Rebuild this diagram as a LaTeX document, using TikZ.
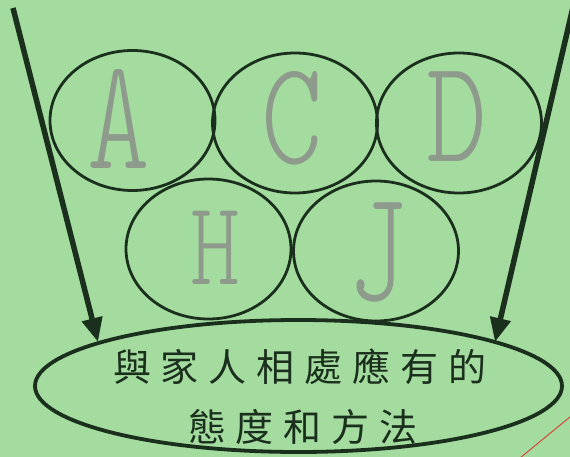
\documentclass[tikz,border=0pt]{standalone}
\usepackage{fontspec}
\newfontfamily\cjk{Noto Sans CJK TC}
\newfontfamily\hand{lmmonolt10-regular.otf}
\usetikzlibrary{shapes.geometric,arrows.meta}
\definecolor{bg}{HTML}{A4DCA0}
\definecolor{ink}{HTML}{1B2F1D}
\definecolor{pencil}{HTML}{8E9B8C}
\definecolor{redline}{HTML}{D5463A}
\newcommand\cgap{\hspace{10pt}}
\begin{document}
\begin{tikzpicture}[x=1pt,y=-1pt,
  ring/.style={draw=ink, line width=2.8pt, ellipse, minimum width=165pt, minimum height=140pt, inner sep=0pt},
  letter/.style={text=pencil, font={\hand\fontsize{#1pt}{#1pt}\selectfont}, inner sep=0pt},
  goalbox/.style={draw=ink, line width=3.8pt, ellipse, minimum width=527pt, minimum height=132pt, inner sep=0pt},
  cjktext/.style={text=ink, font={\cjk\fontsize{38pt}{48pt}\selectfont}, inner sep=0pt},
  arrowline/.style={draw=ink, line width=5.5pt, -{Triangle[length=24pt,width=20pt]}}]
\useasboundingbox (0,0) rectangle (570,457);
\clip (0,0) rectangle (570,457);
\fill[bg] (0,0) rectangle (570,457);
% circles
\node[ring] (cA) at (132.5,120.5) {};
\node[ring] (cC) at (295,123) {};
\node[ring] (cD) at (459,123) {};
\node[ring] (cH) at (208.5,249) {};
\node[ring] (cJ) at (376,251) {};
% letters
\node[letter=159, xscale=0.75] (A) at (119,119) {A};
\node[letter=148, xscale=0.79] (C) at (292,118) {C};
\node[letter=147, xscale=0.79] (D) at (457,117) {D};
\node[letter=120, xscale=0.79] (H) at (215,248) {H};
\node[letter=160, xscale=0.71] (J) at (378,252) {J};
% goal ellipse
\node[goalbox] (goal) at (298.5,386) {};
\node[cjktext] (t1) at (300,367) {與\cgap 家\cgap 人\cgap 相\cgap 處\cgap 應\cgap 有\cgap 的};
\node[cjktext] (t2) at (303,427) {態\cgap 度\cgap 和\cgap 方\cgap 法};
% arrows
\coordinate (ls) at (13,8);
\coordinate (lt) at (98,342);
\coordinate (rs) at (577,-10);
\coordinate (rt) at (495,342);
\draw[arrowline] (ls) -- (lt);
\draw[arrowline] (rs) -- (rt);
% red mark
\coordinate (r1) at (520,458);
\coordinate (r2) at (576,412);
\draw[redline, line width=1pt] (r1) -- (r2);
\end{tikzpicture}
\end{document}
